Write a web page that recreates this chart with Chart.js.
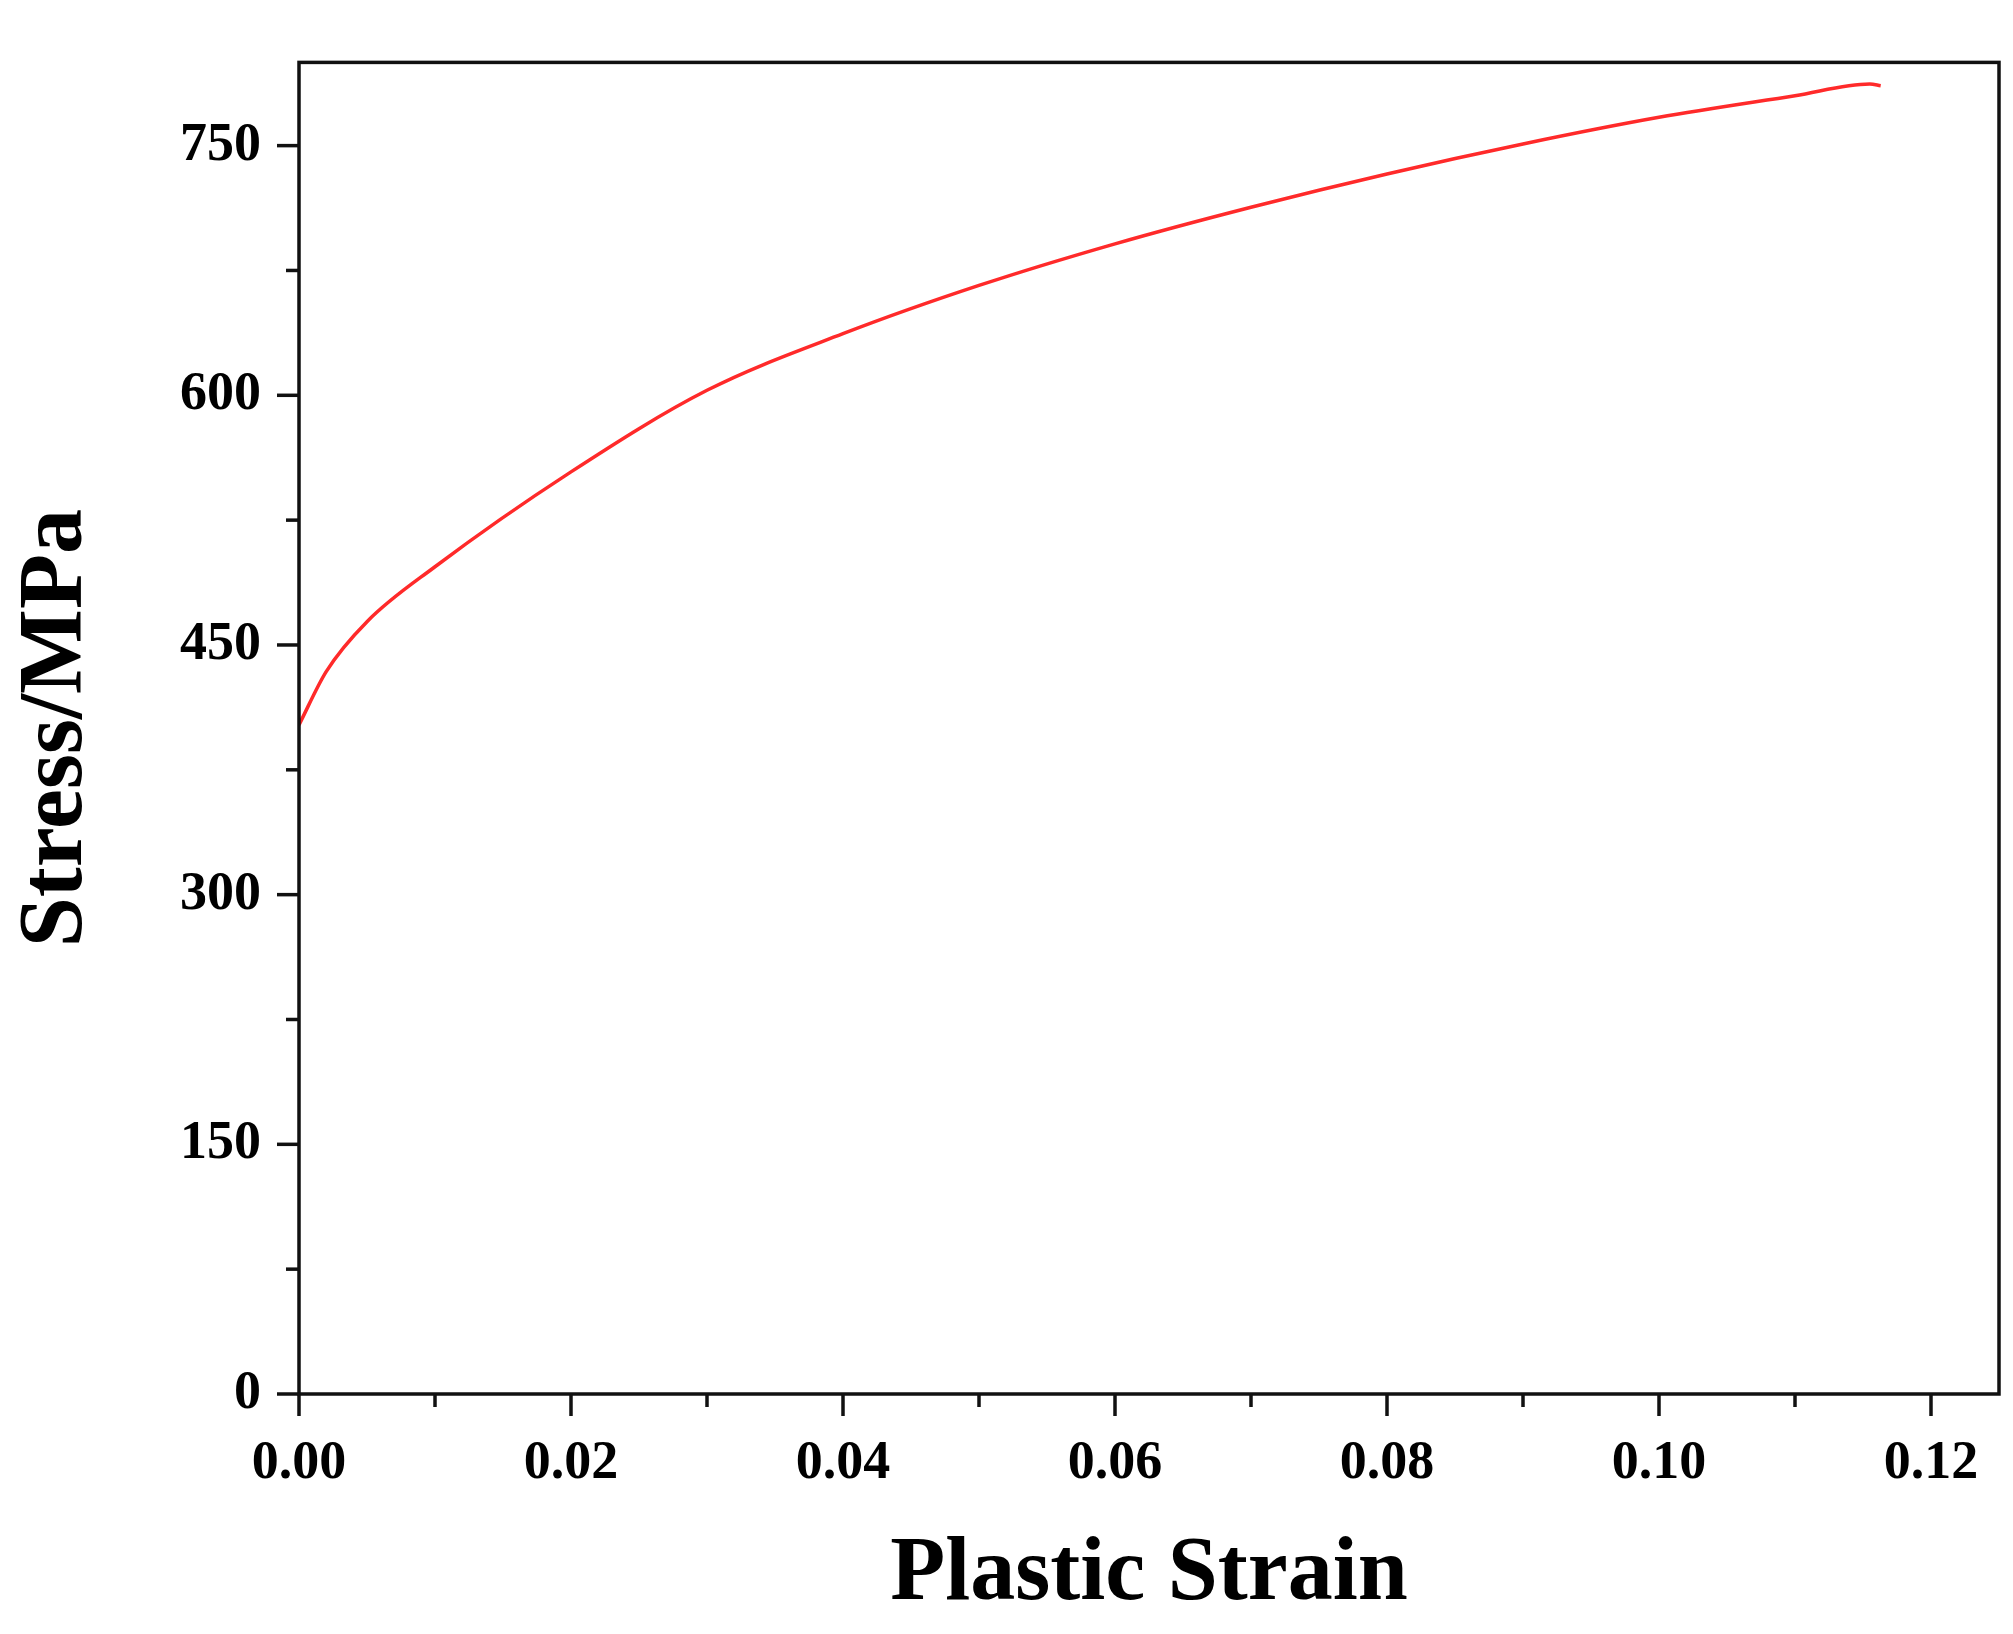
<!DOCTYPE html>
<html><head><meta charset="utf-8">
<script src="https://cdn.jsdelivr.net/npm/chart.js@4/dist/chart.umd.min.js"></script>
<style>html,body{margin:0;padding:0;background:#fff}#w{width:2013px;height:1634px}</style>
</head><body><div id="w"><canvas id="c"></canvas></div>
<script>
const strain = [0, 0.002, 0.005, 0.01, 0.02, 0.03, 0.04, 0.05, 0.06, 0.07, 0.08, 0.09, 0.10, 0.11, 0.1155, 0.1163];
const stress = [402, 434, 464, 497, 554, 603, 637, 666, 691, 713, 733, 751, 767, 780, 787, 786];
const xTicks = [0, 0.02, 0.04, 0.06, 0.08, 0.10, 0.12];
const yTicks = [0, 150, 300, 450, 600, 750];
const font = 'Liberation Serif';
const ticksPlugin = {
  id:'ticks',
  afterDraw(ch){
    const c=ch.ctx, a=ch.chartArea, x=ch.scales.x, y=ch.scales.y;
    c.save(); c.strokeStyle='#111'; c.lineWidth=3.5;
    c.strokeRect(a.left,a.top,a.right-a.left,a.bottom-a.top);
    for(let v=0; v<=0.125; v+=0.01){
      const px=x.getPixelForValue(v); const major=Math.round(v*100)%2===0;
      c.beginPath(); c.moveTo(px,a.bottom); c.lineTo(px,a.bottom+(major?22:13)); c.stroke();
    }
    for(let v=0; v<=800; v+=75){
      const py=y.getPixelForValue(v); const major=v%150===0;
      c.beginPath(); c.moveTo(a.left,py); c.lineTo(a.left-(major?22:13),py); c.stroke();
    }
    c.restore();
  }
};
new Chart(document.getElementById('c'),{
  type:'line',
  data:{datasets:[{data:strain.map((s,i)=>({x:s,y:stress[i]})),borderColor:'#ff2a2a',borderWidth:3.5,pointRadius:0,cubicInterpolationMode:'monotone'}]},
  options:{
    responsive:true,maintainAspectRatio:false,animation:false,
    layout:{padding:{top:-12,right:14,left:0,bottom:0}},
    plugins:{legend:{display:false},tooltip:{enabled:false}},
    scales:{
      x:{type:'linear',min:0,max:0.125,
        afterBuildTicks(s){s.ticks=xTicks.map(v=>({value:v}));},
        afterFit(s){s.height=240;},
        grid:{display:false},border:{display:false},
        ticks:{padding:30,color:'#000',font:{family:font,weight:'bold',size:54},callback:v=>v.toFixed(2)},
        title:{display:true,text:'Plastic Strain',color:'#000',padding:{top:30},font:{family:font,weight:'bold',size:90}}},
      y:{type:'linear',min:0,max:800,
        afterBuildTicks(s){s.ticks=yTicks.map(v=>({value:v}));},
        afterFit(s){s.width=299;},
        grid:{display:false},border:{display:false},
        ticks:{padding:30,color:'#000',font:{family:font,weight:'bold',size:54}},
        title:{display:true,text:'Stress/MPa',color:'#000',padding:{bottom:30},font:{family:font,weight:'bold',size:90}}}
    }
  },
  plugins:[ticksPlugin]
});
</script></body></html>
